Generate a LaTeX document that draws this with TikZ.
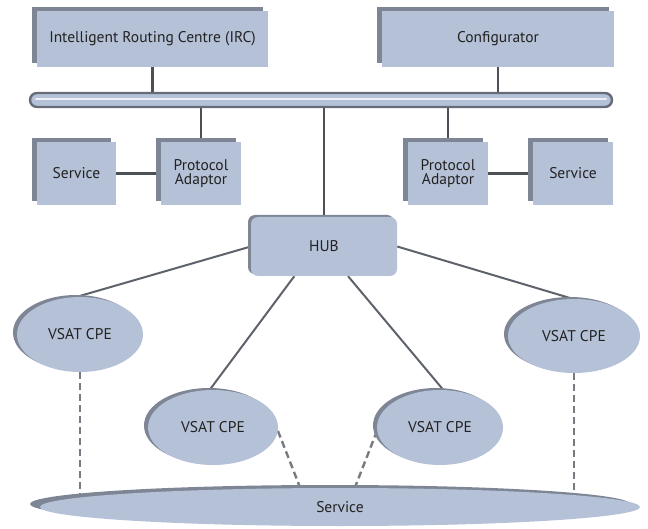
\documentclass[tikz,border=0pt]{standalone}
\usepackage{fontspec}
\setmainfont{PT Sans}
\usetikzlibrary{shapes.geometric,shadows,calc}
\pgfdeclarelayer{background}
\pgfsetlayers{background,main}
\definecolor{boxfill}{HTML}{B5C1D7}
\definecolor{boxedge}{HTML}{7E8696}
\definecolor{wirecol}{HTML}{4C5057}
\definecolor{spokecol}{HTML}{5E636B}
\definecolor{txtcol}{HTML}{222222}
\tikzset{
  solid3d/.style={fill=boxfill, text=txtcol, inner sep=0pt,
    font=\fontsize{15.5}{14}\selectfont, align=center},
  unitbox/.style={solid3d, rectangle, minimum width=#1, minimum height=63pt,
    general shadow={fill=boxedge, shadow xshift=-5pt, shadow yshift=4pt}},
  topbox/.style={unitbox=#1, minimum height=56pt},
  hubbox/.style={solid3d, rectangle, rounded corners=7pt, minimum width=146pt,
    minimum height=59pt,
    general shadow={fill=boxedge, shadow xshift=-3pt, shadow yshift=2pt}},
  cpe/.style={solid3d, ellipse, minimum width=#1, minimum height=75pt,
    general shadow={fill=boxedge, shadow xshift=-4pt, shadow yshift=2pt}},
  wire/.style={draw=wirecol, line width=2.4pt},
  spoke/.style={draw=spokecol, line width=2pt},
  drop/.style={draw=spokecol!85, line width=2.4pt, dash pattern=on 7pt off 4pt}
}
\begin{document}
\begin{tikzpicture}[x=1pt, y=1pt]
    \useasboundingbox (0,0) rectangle (648,528);
    % obere Ebene
    \node[topbox=231pt] (irc) at (152.5,489) {Intelligent Routing Centre (IRC)};
    \node[topbox=232pt] (config) at (498,489) {Configurator};
    % Bus
    \node[rectangle, rounded corners=7pt, minimum width=582pt, minimum height=14pt,
      inner sep=0pt, fill=boxfill, draw=boxedge!80!black, line width=2.4pt]
      (bus) at (321,428) {};
    \draw[white!75!boxfill, line width=2pt, line cap=round]
      ($(bus.west)+(7,1)$) -- ($(bus.east)+(-7,1)$);
    % Dienste und Adapter
    \node[unitbox=79pt] (servL) at (76.5,354.5) {Service};
    \node[unitbox=80pt] (paL) at (201,354.5) {Protocol\\Adaptor};
    \node[unitbox=80pt] (paR) at (448,354.5) {Protocol\\Adaptor};
    \node[unitbox=80pt] (servR) at (573,354.5) {Service};
    % HUB und Terminals
    \node[hubbox] (hub) at (324,281.5) {HUB};
    \node[cpe=126pt] (cpeA) at (80,193.5) {VSAT CPE};
    \node[cpe=130pt] (cpeB) at (213,100.5) {VSAT CPE};
    \node[cpe=126pt] (cpeC) at (440,100.5) {VSAT CPE};
    \node[cpe=132pt, minimum height=74pt] (cpeD) at (574,192) {VSAT CPE};
    % Dienst unten
    \node[solid3d, ellipse, minimum width=600pt, minimum height=38pt,
      general shadow={fill=boxedge, shadow xshift=-10pt, shadow yshift=3pt}]
      (service) at (340,21) {Service};
    \coordinate (dropB) at (303,33);
    \coordinate (dropC) at (352,33);
    % Verbindungen
    \begin{pgfonlayer}{background}
      \draw[wire] (irc.south) -- (irc.south |- bus.center);
      \draw[wire] (config.south) -- (config.south |- bus.center);
      \draw[wire] (hub.north) -- (hub.north |- bus.center);
      \draw[wire] (paL.north) -- (paL.north |- bus.center);
      \draw[wire] (paR.north) -- (paR.north |- bus.center);
      \draw[wire] (servL.east) -- (paL.west);
      \draw[wire] (paR.east) -- (servR.west);
      \draw[spoke] (hub.west) -- (cpeA.95);
      \draw[spoke] (hub.east) -- (cpeD.92);
      \draw[spoke] (hub.-135) -- (cpeB.95);
      \draw[spoke] (hub.-51) -- (cpeC.85);
      \draw[drop] (cpeA.south) -- (cpeA.south |- service.center);
      \draw[drop] (cpeD.south) -- (cpeD.south |- service.center);
      \draw[drop] (cpeB.-3) -- (dropB);
      \draw[drop] (cpeC.183) -- (dropC);
    \end{pgfonlayer}
\end{tikzpicture}
\end{document}
